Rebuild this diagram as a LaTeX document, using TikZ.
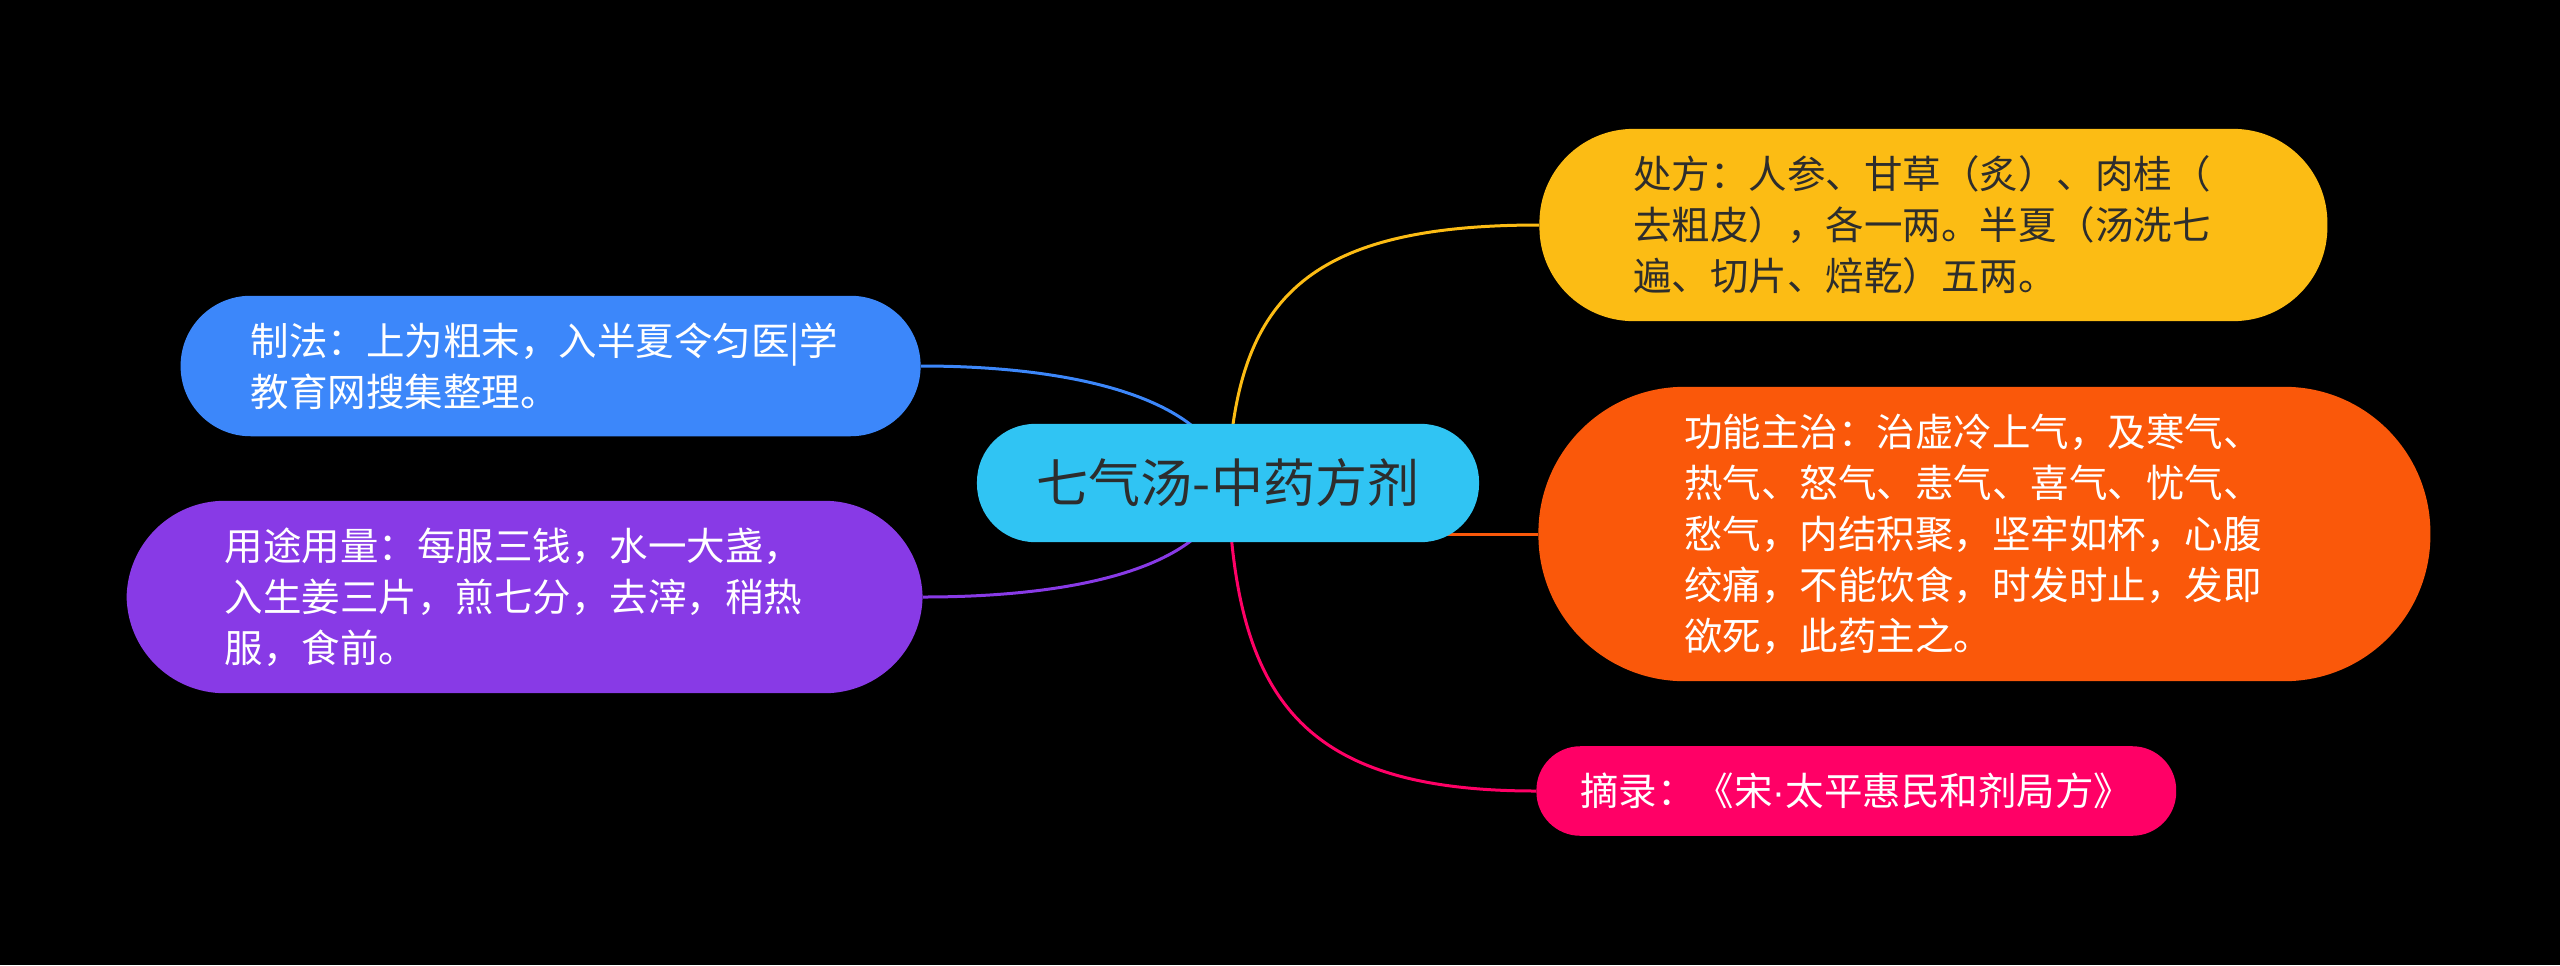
\documentclass[tikz,border=0pt]{standalone}
\usepackage{fontspec}
\setmainfont{Noto Sans CJK SC}
\newfontfamily\dotfont{Liberation Sans}
\usepackage{tikz}
\usetikzlibrary{backgrounds}
\definecolor{rootfill}{RGB}{48,196,243}
\definecolor{darktext}{RGB}{45,45,45}
\definecolor{mapyellow}{RGB}{252,188,20}
\definecolor{maporange}{RGB}{250,88,10}
\definecolor{mappink}{RGB}{255,0,102}
\definecolor{mapblue}{RGB}{60,135,250}
\definecolor{mappurple}{RGB}{136,58,230}

\begin{document}
\begin{tikzpicture}[x=0.5pt,y=-0.5pt,
  topic/.style={rectangle,rounded corners=#1,inner xsep=#1,inner ysep=13.4pt,
    font=\fontsize{19.25pt}{25.5pt}\selectfont,text=white},
  topicbox/.style={topic=#1,text width=300pt,align=left},
  branch/.style={line width=1.5pt}]
  \useasboundingbox (0,0) rectangle (2560,965);
  \node[rectangle,rounded corners=29pt,fill=rootfill,inner xsep=30pt,inner ysep=17.5pt,
    font=\fontsize{26pt}{30pt}\selectfont,text=darktext] (root) at (1228,483) {七气汤-中药方剂};
  \node[topicbox=47pt,fill=mapyellow,text=darktext,anchor=west] (recipe) at (1539,225)
    {处方：人参、甘草（炙）、肉桂（\\去粗皮），各一两。半夏（汤洗七\\遍、切片、焙乾）五两。};
  \node[topicbox=73pt,fill=maporange,anchor=west] (effect) at (1538,534)
    {功能主治：治虚冷上气，及寒气、\\热气、怒气、恚气、喜气、忧气、\\愁气，内结积聚，坚牢如杯，心腹\\绞痛，不能饮食，时发时止，发即\\欲死，此药主之。};
  \node[topic=22pt,fill=mappink,anchor=west] (source) at (1536,791) {摘录：《宋{\dotfont ·}太平惠民和剂局方》};
  \node[topicbox=35pt,fill=mapblue,anchor=east] (method) at (921,366)
    {制法：上为粗末，入半夏令匀医|学\\教育网搜集整理。};
  \node[topicbox=49pt,fill=mappurple,anchor=east] (usage) at (923,597)
    {用途用量：每服三钱，水一大盏，\\入生姜三片，煎七分，去滓，稍热\\服，食前。};
  \begin{scope}[on background layer]
    \fill[black] (0,0) rectangle (2560,965);
    \draw[branch,mapyellow] (root.center) .. controls +(7,-183) and +(-235,0) .. (recipe.west);
    \draw[branch,maporange] (root.center |- effect.west) -- (effect.west);
    \draw[branch,mappink] (root.center) .. controls +(7,216) and +(-235,0) .. (source.west);
    \draw[branch,mapblue] (root.center) .. controls +(-13,-83) and +(158,0) .. (method.east);
    \draw[branch,mappurple] (root.center) .. controls +(-13,83) and +(158,0) .. (usage.east);
  \end{scope}
\end{tikzpicture}
\end{document}
